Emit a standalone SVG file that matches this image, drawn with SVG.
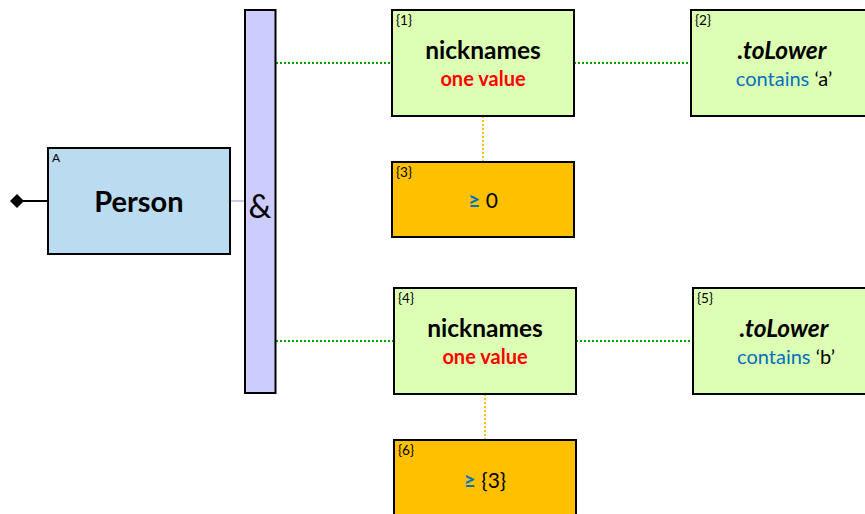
<svg xmlns="http://www.w3.org/2000/svg" width="865" height="514" viewBox="0 0 865 514">
<style>
text{font-family:Lato,"Liberation Sans",sans-serif;fill:#000}
.box{stroke:#000;stroke-width:2}
.g{fill:#dcffb4}
.o{fill:#ffc000}
.tag{font-size:13.5px}
.title{font-size:24.5px;font-weight:bold;text-anchor:middle}
.sub{font-size:20px;text-anchor:middle}
.red{fill:#ff0000;font-weight:bold}
.blue{fill:#0070c0}
.gd{stroke:#00a000;stroke-width:2;stroke-dasharray:2 2;fill:none}
.od{stroke:#ffc000;stroke-width:2;stroke-dasharray:2 2;fill:none}
</style>
<rect width="865" height="514" fill="#fff"/>
<g id="connectors">
<line x1="17" y1="201" x2="48" y2="201" stroke="#000" stroke-width="2"/>
<path d="M10 201 L17 194 L24 201 L17 208 Z" fill="#000"/>
<line x1="230" y1="201" x2="245" y2="201" stroke="#c8c8f0" stroke-width="2"/>
<line class="gd" x1="276" y1="63" x2="392" y2="63"/>
<line class="gd" x1="574" y1="63" x2="691" y2="63"/>
<line class="gd" x1="276" y1="341" x2="393" y2="341"/>
<line class="gd" x1="576" y1="341" x2="693" y2="341"/>
<line class="od" x1="483" y1="116" x2="483" y2="162"/>
<line class="od" x1="485" y1="394" x2="485" y2="440"/>
</g>
<g id="nodeA">
<rect class="box" x="48" y="148" width="182" height="106" fill="#bbdcf0"/>
<text x="52" y="162" font-size="12">A</text>
<text x="139" y="212" font-size="29" font-weight="bold" text-anchor="middle">Person</text>
</g>
<g id="and">
<rect class="box" x="245" y="10" width="30.5" height="383" fill="#ccccff"/>
<text x="260" y="218" font-size="32" text-anchor="middle">&amp;</text>
</g>
<g id="n1">
<rect class="box g" x="392" y="10" width="182" height="106"/>
<text class="tag" x="396" y="25">{1}</text>
<text class="title" x="483" y="59">nicknames</text>
<text class="sub red" x="483" y="86">one value</text>
</g>
<g id="n2">
<rect class="box g" x="691" y="10" width="182" height="106"/>
<text class="tag" x="695" y="25">{2}</text>
<text class="title" x="782" y="59" font-style="italic">.toLower</text>
<text class="sub" x="784" y="86"><tspan class="blue">contains</tspan> ‘a’</text>
</g>
<g id="n3">
<rect class="box o" x="392" y="162" width="182" height="75"/>
<text class="tag" x="396" y="177">{3}</text>
<text x="483" y="208" font-size="21" text-anchor="middle"><tspan class="blue" font-weight="bold">≥</tspan> 0</text>
</g>
<g id="n4">
<rect class="box g" x="394" y="288" width="182" height="106"/>
<text class="tag" x="398" y="303">{4}</text>
<text class="title" x="485" y="337">nicknames</text>
<text class="sub red" x="485" y="364">one value</text>
</g>
<g id="n5">
<rect class="box g" x="693" y="288" width="182" height="106"/>
<text class="tag" x="697" y="303">{5}</text>
<text class="title" x="784" y="337" font-style="italic">.toLower</text>
<text class="sub" x="786" y="364"><tspan class="blue">contains</tspan> ‘b’</text>
</g>
<g id="n6">
<rect class="box o" x="394" y="440" width="182" height="106"/>
<text class="tag" x="398" y="455">{6}</text>
<text x="485" y="488" font-size="21" text-anchor="middle"><tspan class="blue" font-weight="bold">≥</tspan> {3}</text>
</g>
</svg>
